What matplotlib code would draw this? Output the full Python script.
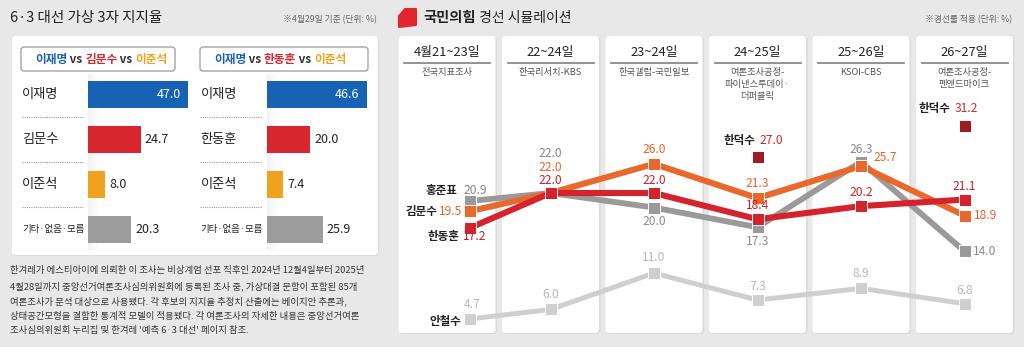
import matplotlib.pyplot as plt
import numpy as np
from matplotlib.patches import FancyBboxPatch, Polygon

W, H = 1024, 347
plt.rcParams['font.family'] = ['Noto Sans CJK KR', 'DejaVu Sans']

# ---- data: left bar charts ----
names_a = ['이재명', '김문수', '이준석', '기타·없음·모름']
vals_a = [47.0, 24.7, 8.0, 20.3]
names_b = ['이재명', '한동훈', '이준석', '기타·없음·모름']
vals_b = [46.6, 20.0, 7.4, 25.9]
bar_colors = ['#1762b4', '#d7262e', '#f0a11e', '#9c9c9c']

# ---- data: right line chart ----
dates = ['4월21~23일', '22~24일', '23~24일', '24~25일', '25~26일', '26~27일']
pollsters = ['전국지표조사', '한국리서치-KBS', '한국갤럽-국민일보',
             '여론조사공정-\n파이낸스투데이·\n더퍼블릭', 'KSOI-CBS', '여론조사공정-\n펜앤드마이크']
hong = [20.9, 22.0, 20.0, 17.3, 26.3, 14.0]
kim = [19.5, 22.0, 26.0, 21.3, 25.7, 18.9]
han = [17.2, 22.0, 22.0, 18.4, 20.2, 21.1]
ahn = [4.7, 6.0, 11.0, 7.3, 8.9, 6.8]
hds = [np.nan, np.nan, np.nan, 27.0, np.nan, 31.2]

note_text = ["한겨레가 에스티아이에 의뢰한 이 조사는 비상계엄 선포 직후인 2024년 12월4일부터 2025년",
             "4월28일까지 중앙선거여론조사심의위원회에 등록된 조사 중, 가상대결 문항이 포함된 85개",
             "여론조사가 분석 대상으로 사용됐다. 각 후보의 지지율 추정치 산출에는 베이지안 추론과,",
             "상태공간모형을 결합한 통계적 모델이 적용됐다. 각 여론조사의 자세한 내용은 중앙선거여론",
             "조사심의위원회 누리집 및 한겨레 '예측 6·3 대선' 페이지 참조."]

BG = '#e8e8e8'
DARK = '#222222'

fig = plt.figure(figsize=(W / 100, H / 100), dpi=100, facecolor=BG)


def px_axes(x0, y0, x1, y1):
    return fig.add_axes([x0 / W, 1 - y1 / H, (x1 - x0) / W, (y1 - y0) / H])


bg = fig.add_axes([0, 0, 1, 1])
bg.set_xlim(0, W)
bg.set_ylim(H, 0)
bg.axis('off')
bg.set_facecolor(BG)


def rbox(x0, y0, x1, y1, fc='white', ec='none', lw=0, r=4):
    bg.add_patch(FancyBboxPatch((x0, y0), x1 - x0, y1 - y0,
                                boxstyle=f'round,pad=0,rounding_size={r}',
                                fc=fc, ec=ec, lw=lw))


# ---- left panel ----
bg.text(10, 18, '6·3 대선 가상 3자 지지율', fontsize=10.5, color=DARK, va='center', ha='left')
bg.text(377, 20, '※4월29일 기준 (단위: %)', fontsize=6.3, color='#666', va='center', ha='right')
rbox(13, 37, 379, 256, fc='#dcdcdc')
rbox(12, 36, 378, 255)

for i, line in enumerate(note_text):
    bg.text(10, 271 + i * 15, line, fontsize=6.75, color='#333', va='center', ha='left')


def header(x0, x1, parts):
    rbox(x0, 47, x1, 71, fc='white', ec='#9a9a9a', lw=0.9, r=3)
    t = bg.text(x0 + 14, 59.5, parts[0][0], color=parts[0][1], fontsize=8.4,
                fontweight='bold', va='center', ha='left')
    for s, c in parts[1:]:
        t = bg.annotate(s, xy=(1, 0), xycoords=t, va='bottom', ha='left',
                        color=c, fontsize=8.4, fontweight='bold')


header(21, 175, [('이재명', '#1762b4'), (' vs ', '#333'), ('김문수', '#d7262e'),
                 (' vs ', '#333'), ('이준석', '#f0a11e')])
header(200, 368, [('이재명', '#1762b4'), (' vs ', '#333'), ('한동훈', '#d7262e'),
                  (' vs ', '#333'), ('이준석', '#f0a11e')])


def bar_panel(x0, scale, names, vals):
    ax = px_axes(x0, 72, x0 + 50 * scale, 252)
    ax.set_xlim(0, 50)
    ax.set_ylim(3.5, -0.5)
    ax.axis('off')
    ax.patch.set_alpha(0)
    # soft shadow strip left of bars
    grad = np.linspace(0, 1, 50).reshape(1, -1)
    ax.imshow(grad, cmap='Greys_r', extent=(0, 5, 3.45, -0.45), aspect='auto',
              vmin=-2, vmax=1, alpha=0.25, zorder=1)
    y = np.arange(len(vals))
    ax.barh(y, vals, height=0.6, color=bar_colors, zorder=2)
    for i, (n, v) in enumerate(zip(names, vals)):
        fs = 6.8 if i == 3 else 9.5
        ax.text(-31, i, n, ha='left', va='center', fontsize=fs, color=DARK, clip_on=False)
        if i == 0:
            ax.text(v - 3.5, i, f'{v:.1f}', ha='right', va='center', fontsize=9, color='white')
        else:
            ax.text(v + 2, i, f'{v:.1f}', ha='left', va='center', fontsize=9, color=DARK)
        if i < 3:
            ax.plot([-31, -2.5], [i + 0.5, i + 0.5], ls=(0, (1, 1)), color='#9a9a9a',
                    lw=0.8, clip_on=False)


bar_panel(88, 100 / 47.0, names_a, vals_a)
bar_panel(267, 100 / 46.6, names_b, vals_b)

# ---- right panel ----
bg.add_patch(Polygon([[399, 16], [405, 9], [416, 9], [416, 25], [399, 27]],
                     closed=True, fc='#e3262d', ec='#e3262d', lw=1.5, joinstyle='round'))
t = bg.text(423, 18, '국민의힘', fontsize=10.3, fontweight='bold', color=DARK, va='center')
bg.annotate(' 경선 시뮬레이션', xy=(1, 0), xycoords=t, va='bottom', ha='left',
            fontsize=10, color=DARK)
bg.text(1012, 20, '※경선룰 적용 (단위: %)', fontsize=6.3, color='#666', va='center', ha='right')

col_w = 103.5
col_x0 = 395.25
col_cx = col_x0 + (np.arange(6) + 0.5) * col_w
for i, cx in enumerate(col_cx):
    rbox(cx - 48 + 1, 37, cx + 49 + 1, 334, fc='#d9d9d9')
    rbox(cx - 48.5, 36, cx + 48.5, 333)
    bg.text(cx, 52, dates[i], fontsize=9.3, color=DARK, ha='center', va='center')
    bg.plot([cx - 43, cx + 43], [63, 63], color='#8a8a8a', lw=1.3)
    bg.text(cx, 68, pollsters[i], fontsize=6.7, color='#555', ha='center', va='top',
            linespacing=1.45)

lax = px_axes(col_x0, 36, col_x0 + 6 * col_w, 333)
lax.set_xlim(-0.5, 5.5)
lax.set_ylim(2.77, 43.57)
lax.axis('off')
lax.patch.set_alpha(0)

xs = [0.22, 1, 2, 3, 4, 5]
series = [
    (ahn, '#cfcfcf', 3.6),
    (hong, '#9a9a9a', 4.2),
    (kim, '#e8692b', 4.4),
    (han, '#d5232e', 4.4),
]
for vals, c, lw in series:
    lax.plot(xs, vals, color=c, lw=lw, marker='s', ms=8, mfc=c, mec='white',
             mew=0.7, solid_joinstyle='miter')
lax.plot(xs, hds, ls='none', marker='s', ms=8, mfc='#9c1c22', mec='white', mew=0.7)


def lab(x, y, s, color, dx, dy, ha='center', weight='normal', size=8.7):
    lax.annotate(s, (x, y), xytext=(dx * 0.72, dy * 0.72), textcoords='offset points',
                 ha=ha, va='center', color=color, fontsize=size, fontweight=weight,
                 annotation_clip=False)


C_HONG, C_KIM, C_HAN, C_AHN, C_HDS = '#8a8a8a', '#e2662b', '#c9202c', '#b8b8b8', '#c62a30'

# first column: names + values
lab(xs[0], hong[0], '홍준표', DARK, -12, 11, 'right', 'bold', 8.3)
lab(xs[0], hong[0], f'{hong[0]:.1f}', C_HONG, -6, 11, 'left')
lab(xs[0], kim[0], '김문수', DARK, -32, 0, 'right', 'bold', 8.3)
lab(xs[0], kim[0], f'{kim[0]:.1f}', C_KIM, -8, 0, 'right')
lab(xs[0], han[0], '한동훈', DARK, -10, -9, 'right', 'bold', 8.3)
lab(xs[0], han[0], f'{han[0]:.1f}', C_HAN, -7, -9, 'left')
lab(xs[0], ahn[0], '안철수', DARK, -8, -3, 'right', 'bold', 8.3)
lab(xs[0], ahn[0], f'{ahn[0]:.1f}', C_AHN, -6, 14, 'left')

hong_off = [None, (0, 40, 'center'), (0, -14, 'center'), (0, -14, 'center'),
            (0, 12, 'center'), (8, 0, 'left')]
kim_off = [None, (0, 26, 'center'), (0, 14, 'center'), (0, 15, 'center'),
           (12, 9, 'left'), (9, 0, 'left')]
han_off = [None, (0, 13, 'center'), (0, 13, 'center'), (0, 14, 'center'),
           (0, 14, 'center'), (0, 13, 'center')]
ahn_off = [None, (0, 15, 'center'), (0, 16, 'center'), (0, 14, 'center'),
           (0, 15, 'center'), (0, 13, 'center')]
for vals, offs, c in [(hong, hong_off, C_HONG), (kim, kim_off, C_KIM),
                      (han, han_off, C_HAN), (ahn, ahn_off, C_AHN)]:
    for i in range(1, 6):
        dx, dy, ha = offs[i]
        lab(xs[i], vals[i], f'{vals[i]:.1f}', c, dx, dy, ha)

for i, v in enumerate(hds):
    if not np.isnan(v):
        dx = 0 if i == 3 else -12
        dy = 16 if i == 3 else 18
        lab(xs[i], v, '한덕수', DARK, dx - 2, dy, 'right', 'bold', 8.3)
        lab(xs[i], v, f'{v:.1f}', C_HDS, dx + 2, dy, 'left')

fig.savefig('out.png', dpi=100, facecolor=BG)
